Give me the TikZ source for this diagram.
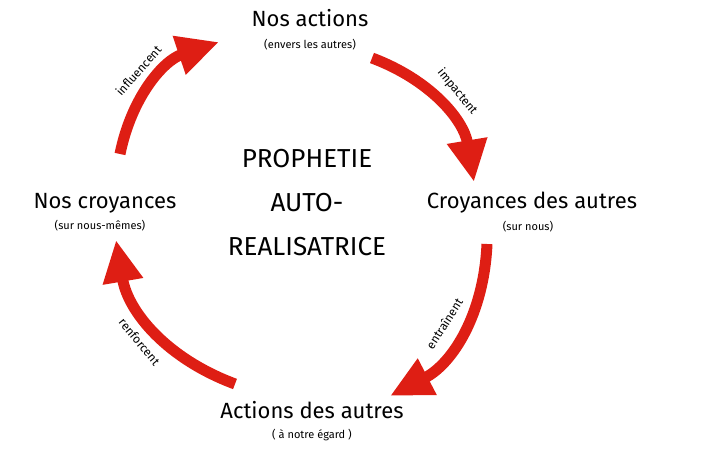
\documentclass[tikz,border=0pt]{standalone}
\usepackage{fontspec}
\setmainfont{Fira Sans}
\usetikzlibrary{arrows.meta}

\tikzset{
  bigarrow/.style={draw=flecheRouge, line width=11pt,
    -{Triangle[width=38pt,length=42pt,fill=flecheRouge]}},
  titre/.style={font=\fontsize{22}{26}\selectfont},
  sous/.style={font=\fontsize{11}{13}\selectfont},
  verbe/.style={font=\fontsize{12}{14}\selectfont, midway, sloped}
}
\definecolor{flecheRouge}{RGB}{222,30,20}

\begin{document}
\begin{tikzpicture}[x=1pt, y=1pt]
    \useasboundingbox (0,0) rectangle (705,454);
    % les quatre etapes
    \node[titre] (actions) at (310,436) {Nos actions};
    \node[sous] (actions-s) at (310,409) {(envers les autres)};
    \node[titre] (autres) at (532,251) {Croyances des autres};
    \node[sous] (autres-s) at (528,227) {(sur nous)};
    \node[titre] (croyances) at (105,251) {Nos croyances};
    \node[sous] (croyances-s) at (100,228) {(sur nous-mêmes)};
    \node[titre] (reponse) at (312,44) {Actions des autres};
    \node[sous] (reponse-s) at (312,19) {( à notre égard )};
    % centre
    \node[font=\fontsize{26}{44}\selectfont, align=center] (centre) at (307,251)
        {PROPHETIE\\AUTO-\\REALISATRICE};
    % les fleches
    \coordinate (a1) at (372,396); \coordinate (b1) at (474,272);
    \coordinate (a2) at (487,210); \coordinate (b2) at (390,58);
    \coordinate (a3) at (235,70);  \coordinate (b3) at (116,214);
    \coordinate (a4) at (120,300); \coordinate (b4) at (219,412);
    \draw[bigarrow] (a1) to[bend left=30] node[verbe, above=6pt] {impactent} (b1);
    \draw[bigarrow] (a2) to[bend left=30] node[verbe, above=6pt] {entraînent} (b2);
    \draw[bigarrow] (a3) to[bend left=30] node[verbe, below=6pt] {renforcent} (b3);
    \draw[bigarrow] (a4) to[bend left=30] node[verbe, above=6pt] {influencent} (b4);
\end{tikzpicture}
\end{document}
